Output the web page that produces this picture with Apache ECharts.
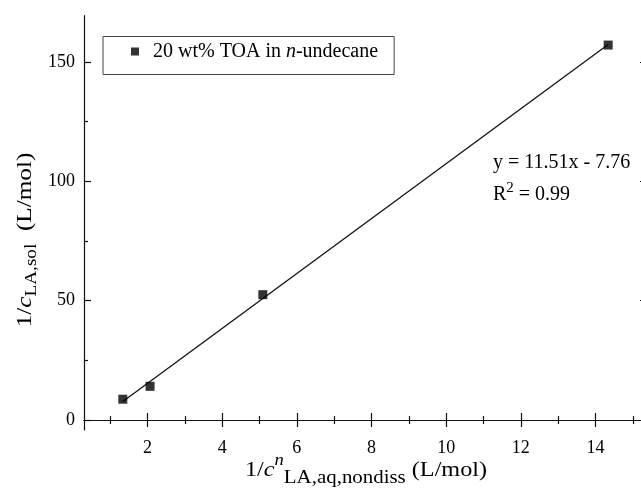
<!DOCTYPE html>
<html>
<head>
    <meta charset="UTF-8">
    <title>1/c LA,sol vs 1/c LA,aq,nondiss</title>
    <script src="https://cdn.jsdelivr.net/npm/echarts@6.0.0/dist/echarts.min.js"></script>
    <style>
        html, body { margin: 0; padding: 0; background: #fff; }
        #chart { width: 641px; height: 488px; }
    </style>
</head>
<body>
    <div id="chart"></div>

<script type="text/javascript">
    // 数据
    var pointsX = [1.34, 2.07, 5.09, 14.34];
    var pointsY = [8.7, 14.1, 52.5, 157.1];
    // 拟合直线的两个端点
    var fitX = [1.34, 14.34];
    var fitY = [7.7, 157.3];

    // 刻度
    var xMajorTicks = [2, 4, 6, 8, 10, 12, 14];
    var xMinorTicks = [1, 3, 5, 7, 9, 11, 13, 15];
    var yMajorTicks = [0, 50, 100, 150];
    var yMinorTicks = [25, 75, 125];

    var seriesName = '20 wt% TOA in {i|n}-undecane';

    var serif = 'Liberation Serif';
    var X_MIN = 0.3, X_MAX = 15.38;
    var Y_MIN = -4.2, Y_MAX = 169.4;

    function pairs(xs, ys) {
        var list = [];
        for (var i = 0; i < xs.length; i++) {
            list.push([xs[i], ys[i]]);
        }
        return list;
    }

    // 一根轴（主刻度或次刻度）
    function xAxisOf(pos, ticks, len, withLine, withLabel) {
        return {
            type: 'value', position: pos, min: X_MIN, max: X_MAX,
            axisLine: { show: withLine, lineStyle: { color: '#111', width: 1.2 } },
            axisTick: { show: true, inside: true, length: len, customValues: ticks,
                        lineStyle: { color: '#111', width: 1.2 } },
            axisLabel: { show: withLabel, customValues: ticks, margin: 9,
                         fontFamily: serif, fontSize: 18, color: '#000' },
            splitLine: { show: false }
        };
    }
    function yAxisOf(pos, ticks, len, withLine, withLabel) {
        return {
            type: 'value', position: pos, min: Y_MIN, max: Y_MAX,
            axisLine: { show: withLine, lineStyle: { color: '#111', width: 1.2 } },
            axisTick: { show: true, inside: true, length: len, customValues: ticks,
                        lineStyle: { color: '#111', width: 1.2 } },
            axisLabel: { show: withLabel, customValues: ticks, margin: 9,
                         fontFamily: serif, fontSize: 18, color: '#000' },
            splitLine: { show: false }
        };
    }

    var myChart = echarts.init(document.getElementById('chart'));

    var option = {
        backgroundColor: '#fff',
        animation: false,
        grid: { left: 84, top: 15.7, width: 563, height: 414.3, outerBoundsMode: 'none' },
        legend: {
            left: 103, top: 36.5,
            padding: [5, 16, 13, 28],
            borderColor: '#444', borderWidth: 1,
            itemWidth: 8, itemHeight: 8,
            icon: 'rect',
            data: [seriesName],
            textStyle: {
                fontFamily: serif, fontSize: 20, color: '#000', padding: [0, 0, 0, 9],
                rich: { i: { fontFamily: serif, fontSize: 20, fontStyle: 'italic', color: '#000' } }
            }
        },
        xAxis: [
            xAxisOf('bottom', xMajorTicks, 7, true, true),
            xAxisOf('bottom', xMinorTicks, 4, false, false),
            xAxisOf('top', xMajorTicks, 7, true, false),
            xAxisOf('top', xMinorTicks, 4, false, false)
        ],
        yAxis: [
            yAxisOf('left', yMajorTicks, 7, true, true),
            yAxisOf('left', yMinorTicks, 4, false, false),
            yAxisOf('right', yMajorTicks, 7, true, false),
            yAxisOf('right', yMinorTicks, 4, false, false)
        ],
        series: [
            {
                name: 'fit',
                type: 'line',
                data: pairs(fitX, fitY),
                symbol: 'none',
                lineStyle: { color: '#111', width: 1.3 },
                z: 2
            },
            {
                name: seriesName,
                type: 'scatter',
                data: pairs(pointsX, pointsY),
                symbol: 'rect',
                symbolSize: 9,
                itemStyle: { color: '#000' },
                z: 3
            }
        ],
        graphic: [
            {   // 拟合方程
                type: 'text', x: 493, y: 163,
                style: { text: 'y = 11.51x - 7.76', font: '20px "Liberation Serif"', fill: '#000',
                         align: 'left', verticalAlign: 'middle' }
            },
            {
                type: 'text', x: 493, y: 195,
                style: {
                    text: '{b|R}{s|2}{b| = 0.99}', fill: '#000', align: 'left', verticalAlign: 'middle',
                    rich: {
                        b: { fontFamily: serif, fontSize: 20, lineHeight: 28, verticalAlign: 'middle' },
                        s: { fontFamily: serif, fontSize: 15, lineHeight: 15, verticalAlign: 'top' }
                    }
                }
            },
            {   // y 轴标题
                type: 'text', x: 25, y: 240, rotation: Math.PI / 2, scaleX: 1.2,
                style: {
                    text: '{m|1/}{i|c}{sub|LA,sol}{m|  (L/mol)}', fill: '#000', align: 'center', verticalAlign: 'middle',
                    rich: {
                        m: { fontFamily: serif, fontSize: 21, lineHeight: 30, verticalAlign: 'middle' },
                        i: { fontFamily: serif, fontSize: 21, fontStyle: 'italic', lineHeight: 30, verticalAlign: 'middle' },
                        sub: { fontFamily: serif, fontSize: 16, lineHeight: 18, verticalAlign: 'bottom' }
                    }
                }
            },
            {   // x 轴标题
                type: 'text', x: 366, y: 470, scaleX: 1.1,
                style: {
                    text: '{m|1/}{i|c}{sup|n}{sub|LA,aq,nondiss}{m| (L/mol)}', fill: '#000', align: 'center', verticalAlign: 'middle',
                    rich: {
                        m: { fontFamily: serif, fontSize: 22, lineHeight: 36, verticalAlign: 'middle' },
                        i: { fontFamily: serif, fontSize: 22, fontStyle: 'italic', lineHeight: 36, verticalAlign: 'middle' },
                        sup: { fontFamily: serif, fontSize: 17, fontStyle: 'italic', lineHeight: 12, verticalAlign: 'top' },
                        sub: { fontFamily: serif, fontSize: 19, lineHeight: 17, verticalAlign: 'bottom' }
                    }
                }
            }
        ]
    };

    myChart.setOption(option);
</script>
</body>
</html>
